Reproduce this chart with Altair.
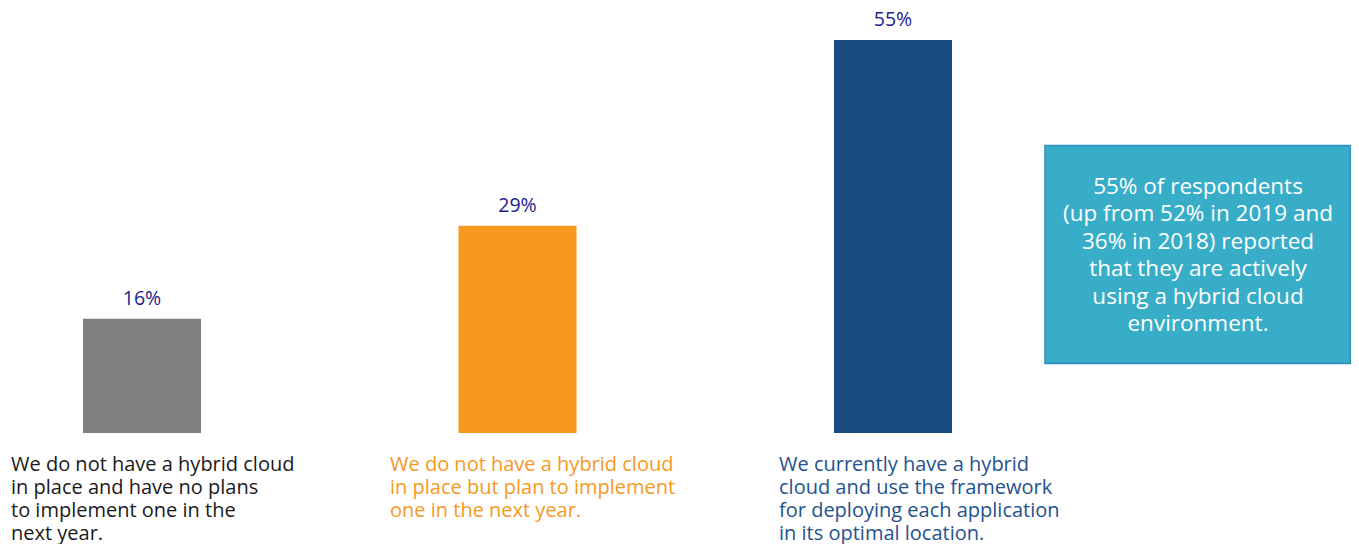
import altair as alt
import pandas as pd

categories = [
    "We do not have a hybrid cloud\nin place and have no plans\nto implement one in the\nnext year.",
    "We do not have a hybrid cloud\nin place but plan to implement\none in the next year.",
    "We currently have a hybrid\ncloud and use the framework\nfor deploying each application\nin its optimal location.",
]
values = [16, 29, 55]
bar_colors = ["#808080", "#F7991F", "#1A4B80"]
label_colors = ["#1a1a1a", "#F7991F", "#24528E"]
note = "55% of respondents\n(up from 52% in 2019 and\n36% in 2018) reported\nthat they are actively\nusing a hybrid cloud\nenvironment."

df = pd.DataFrame({
    "idx": list(range(len(values))),
    "value": values,
    "cat": categories,
    "color": bar_colors,
    "pct": [f"{v}%" for v in values],
})

W, H = 1343, 536
BASE = 425
xs = alt.Scale(domain=[-0.3569, -0.3569 + W / 375.5], nice=False, zero=False, padding=0)
ys = alt.Scale(domain=[-(H - BASE) / 7.1455, BASE / 7.1455], nice=False, zero=False, padding=0)
FONT = "Open Sans"

base = alt.Chart(df)

bars = base.mark_bar(size=118).encode(
    x=alt.X("idx:Q", scale=xs, axis=None),
    y=alt.Y("value:Q", scale=ys, axis=None),
    y2=alt.datum(0),
    color=alt.Color("color:N", scale=None, legend=None),
)

vals = base.mark_text(font=FONT, fontSize=19.5, color="#22228A", baseline="alphabetic", dy=-14).encode(
    x=alt.X("idx:Q", scale=xs),
    y=alt.Y("value:Q", scale=ys),
    text="pct:N",
)

dxs = [-131, -127.5, -114]
cat_layers = []
for i in range(len(values)):
    sub = alt.Chart(df[df.idx == i]).mark_text(
        font=FONT, fontSize=20, align="left", baseline="top", lineBreak="\n",
        lineHeight=23, dx=dxs[i], dy=22, color=label_colors[i],
    ).encode(
        x=alt.X("idx:Q", scale=xs),
        y=alt.Y("zero:Q", scale=ys),
        text="cat:N",
    ).transform_calculate(zero="0")
    cat_layers.append(sub)

box_df = pd.DataFrame({"note": [note]})
box = alt.Chart(box_df).mark_rect(fill="#37ADC8", stroke="#2C8EC0", strokeWidth=1.5).encode(
    x=alt.value(1037), x2=alt.value(1342.5), y=alt.value(137.5), y2=alt.value(355.5)
)
box_text = alt.Chart(box_df).mark_text(
    font=FONT, fontSize=22.5, color="white", align="center", baseline="top",
    lineBreak="\n", lineHeight=27.4,
).encode(x=alt.value(1190), y=alt.value(168), text="note:N")

chart = alt.layer(bars, vals, *cat_layers, box, box_text).properties(
    width=W, height=H, padding=0, autosize=alt.AutoSizeParams(type="none")
).configure_view(stroke=None)

chart.save("out.html", embed_options={"renderer": "svg", "actions": False})
